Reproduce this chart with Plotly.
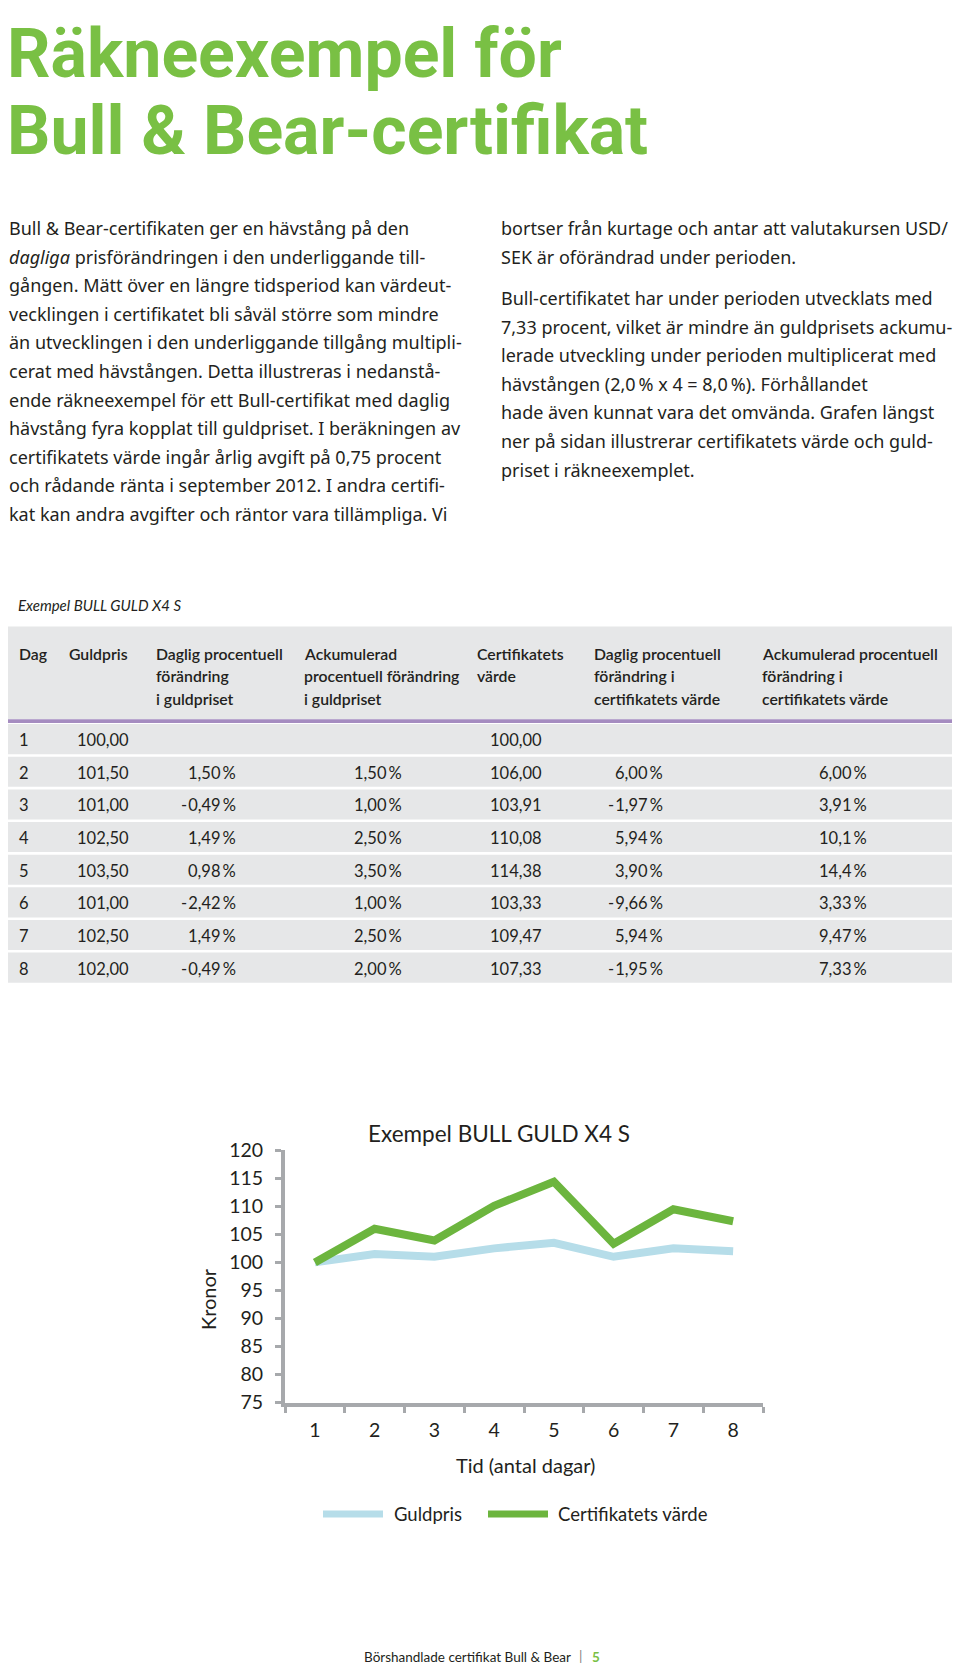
import plotly.graph_objects as go

# ---------------- data ----------------
days = [1, 2, 3, 4, 5, 6, 7, 8]
guldpris = [100.00, 101.50, 101.00, 102.50, 103.50, 101.00, 102.50, 102.00]
daglig_guld = [None, 1.50, -0.49, 1.49, 0.98, -2.42, 1.49, -0.49]
ackum_guld = [None, 1.50, 1.00, 2.50, 3.50, 1.00, 2.50, 2.00]
cert_varde = [100.00, 106.00, 103.91, 110.08, 114.38, 103.33, 109.47, 107.33]
daglig_cert = [None, 6.00, -1.97, 5.94, 3.90, -9.66, 5.94, -1.95]
ackum_cert = [None, 6.00, 3.91, 10.1, 14.4, 3.33, 9.47, 7.33]
y_ticks = [75, 80, 85, 90, 95, 100, 105, 110, 115, 120]

title_lines = ["Räkneexempel för", "Bull & Bear-certifikat"]
left_lines = [
    "Bull & Bear-certifikaten ger en hävstång på den",
    "<i>dagliga</i> prisförändringen i den underliggande till-",
    "gången. Mätt över en längre tidsperiod kan värdeut-",
    "vecklingen i certifikatet bli såväl större som mindre",
    "än utvecklingen i den underliggande tillgång multipli-",
    "cerat med hävstången. Detta illustreras i nedanstå-",
    "ende räkneexempel för ett Bull-certifikat med daglig",
    "hävstång fyra kopplat till guldpriset. I beräkningen av",
    "certifikatets värde ingår årlig avgift på 0,75 procent",
    "och rådande ränta i september 2012. I andra certifi-",
    "kat kan andra avgifter och räntor vara tillämpliga. Vi",
]
right_lines = [
    "bortser från kurtage och antar att valutakursen USD/",
    "SEK är oförändrad under perioden.",
    "Bull-certifikatet har under perioden utvecklats med",
    "7,33 procent, vilket är mindre än guldprisets ackumu-",
    "lerade utveckling under perioden multiplicerat med",
    "hävstången (2,0\u2009% x 4 = 8,0\u2009%). Förhållandet",
    "hade även kunnat vara det omvända. Grafen längst",
    "ner på sidan illustrerar certifikatets värde och guld-",
    "priset i räkneexemplet.",
]
table_caption = "Exempel BULL GULD X4 S"
headers = [
    ["Dag"],
    ["Guldpris"],
    ["Daglig procentuell", "förändring", "i guldpriset"],
    ["Ackumulerad", "procentuell förändring", "i guldpriset"],
    ["Certifikatets", "värde"],
    ["Daglig procentuell", "förändring i", "certifikatets värde"],
    ["Ackumulerad procentuell", "förändring i", "certifikatets värde"],
]
chart_title = "Exempel BULL GULD X4 S"
x_title = "Tid (antal dagar)"
y_title = "Kronor"
series_names = ["Guldpris", "Certifikatets värde"]
footer_text = "Börshandlade certifikat Bull & Bear"
page_no = "5"

# ---------------- style ----------------
W, H = 960, 1677
GREEN_T = "#79c044"
GREEN = "#6cb53e"
BLUE = "#b6dde9"
AXIS = "#a7a9ac"
INK = "#231f20"
GRAY = "#e6e7e8"
PURPLE = "#a58cc0"
TITLEF = "Roboto, Liberation Sans, sans-serif"
BODY = "Noto Sans, Open Sans, sans-serif"
SMALL = "Lato, Roboto, sans-serif"


def X(px):
    return px / W


def Y(py):
    return 1 - py / H


annotations = []
shapes = []


def txt(s, x, y, size, family=SMALL, color=INK, xanchor="left", yanchor="middle",
        weight="normal", **kw):
    annotations.append(dict(
        text=s, x=X(x), y=Y(y), xref="paper", yref="paper", showarrow=False,
        xanchor=xanchor, yanchor=yanchor,
        font=dict(size=size, family=family, color=color, weight=weight),
        borderpad=0, **kw))


def rect(x0, y0, x1, y1, color):
    shapes.append(dict(type="rect", xref="paper", yref="paper", x0=X(x0), x1=X(x1),
                       y0=Y(y1), y1=Y(y0), fillcolor=color, line=dict(width=0), layer="below"))


def pct(v, dec=2):
    if v is None:
        return ""
    if abs(v) >= 10:
        dec = 1
    s = f"{abs(v):.{dec}f}".replace(".", ",") + "\u2009%"
    return ("-\u200a" + s) if v < 0 else s


def num(v):
    return f"{v:.2f}".replace(".", ",")


# ---------------- title ----------------
for s, yc in zip(title_lines, [43, 121]):
    txt(s, 6, yc, 68, family=TITLEF, color=GREEN_T, weight="bold")

# ---------------- body text ----------------
left_y = [219, 248, 277, 306, 335, 364, 393, 422, 451, 480, 509]
for s, yc in zip(left_lines, left_y):
    txt(s, 8, yc, 18, family=BODY)
right_y = [219, 248, 290, 319, 348, 377, 406, 435, 464]
for s, yc in zip(right_lines, right_y):
    txt(s, 500, yc, 18, family=BODY)

# ---------------- table ----------------
txt(f"<i>{table_caption}</i>", 17, 601, 15)
TX0, TX1 = 8, 952
rect(TX0, 623, TX1, 717, GRAY)
rect(TX0, 717, TX1, 721, PURPLE)
header_x = [18, 68, 155, 303, 476, 593, 761]
for hx, lines in zip(header_x, headers):
    for k, line in enumerate(lines):
        txt(line, hx, 650 + 23 * k, 15.8, weight=600)

ROW0, PITCH, BAND = 722, 33.1, 30.5
for i, d in enumerate(days):
    top = ROW0 + PITCH * i
    rect(TX0, top, TX1, top + BAND, GRAY)
    yc = top + BAND / 2 + 1
    txt(str(d), 18, yc, 16.5)
    txt(num(guldpris[i]), 76, yc, 16.5)
    txt(pct(daglig_guld[i]), 237, yc, 16.5, xanchor="right")
    txt(pct(ackum_guld[i]), 403, yc, 16.5, xanchor="right")
    txt(num(cert_varde[i]), 489, yc, 16.5)
    txt(pct(daglig_cert[i]), 664, yc, 16.5, xanchor="right")
    txt(pct(ackum_cert[i]), 868, yc, 16.5, xanchor="right")

# ---------------- chart ----------------
xcat = [str(d) for d in days]
fig = go.Figure()
fig.add_trace(go.Scatter(x=xcat, y=guldpris, mode="lines", name=series_names[0],
                         line=dict(color=BLUE, width=8), showlegend=False))
fig.add_trace(go.Scatter(x=xcat, y=cert_varde, mode="lines", name=series_names[1],
                         line=dict(color=GREEN, width=8), showlegend=False))

txt(chart_title, 499, 1137, 22.5, xanchor="center")
txt(y_title, 208, 1305, 20, xanchor="center", textangle=-90)
txt(x_title, 525, 1473, 20, xanchor="center")

# legend
for (x0, x1, tx), col, name in zip([(323, 383, 393), (488, 548, 557)], [BLUE, GREEN], series_names):
    shapes.append(dict(type="line", xref="paper", yref="paper", x0=X(x0), x1=X(x1),
                       y0=Y(1523), y1=Y(1523), line=dict(color=col, width=7)))
    txt(name, tx, 1523, 18.5)

# footer
txt(footer_text, 363, 1668, 13.5)
txt("|", 578, 1667, 13.5, color="#808080")
txt(page_no, 591, 1668, 13.5, color=GREEN_T, weight="bold")

fig.update_layout(
    width=W, height=H, autosize=False,
    margin=dict(l=0, r=0, t=0, b=0),
    paper_bgcolor="white", plot_bgcolor="white",
    showlegend=False,
    annotations=annotations, shapes=shapes,
    xaxis=dict(
        type="category", domain=[X(285), X(763)], range=[-0.5, 7.5],
        tickson="boundaries", ticks="outside", ticklen=6, tickwidth=3, tickcolor=AXIS,
        showline=True, linewidth=4, linecolor=AXIS, showgrid=False, zeroline=False,
        tickfont=dict(size=19.5, family=SMALL, color=INK), ticklabelstandoff=7,
        fixedrange=True,
    ),
    yaxis=dict(
        domain=[Y(1410), Y(1154)], range=[75, 120], tickvals=y_ticks,
        ticks="outside", ticklen=6, tickwidth=3, tickcolor=AXIS,
        showline=True, linewidth=4, linecolor=AXIS, showgrid=False, zeroline=False,
        tickfont=dict(size=19.5, family=SMALL, color=INK), ticklabelstandoff=8,
        fixedrange=True,
    ),
)

fig.write_html("out.html", config={"displayModeBar": False},
               post_script="document.body.style.margin='0';")
